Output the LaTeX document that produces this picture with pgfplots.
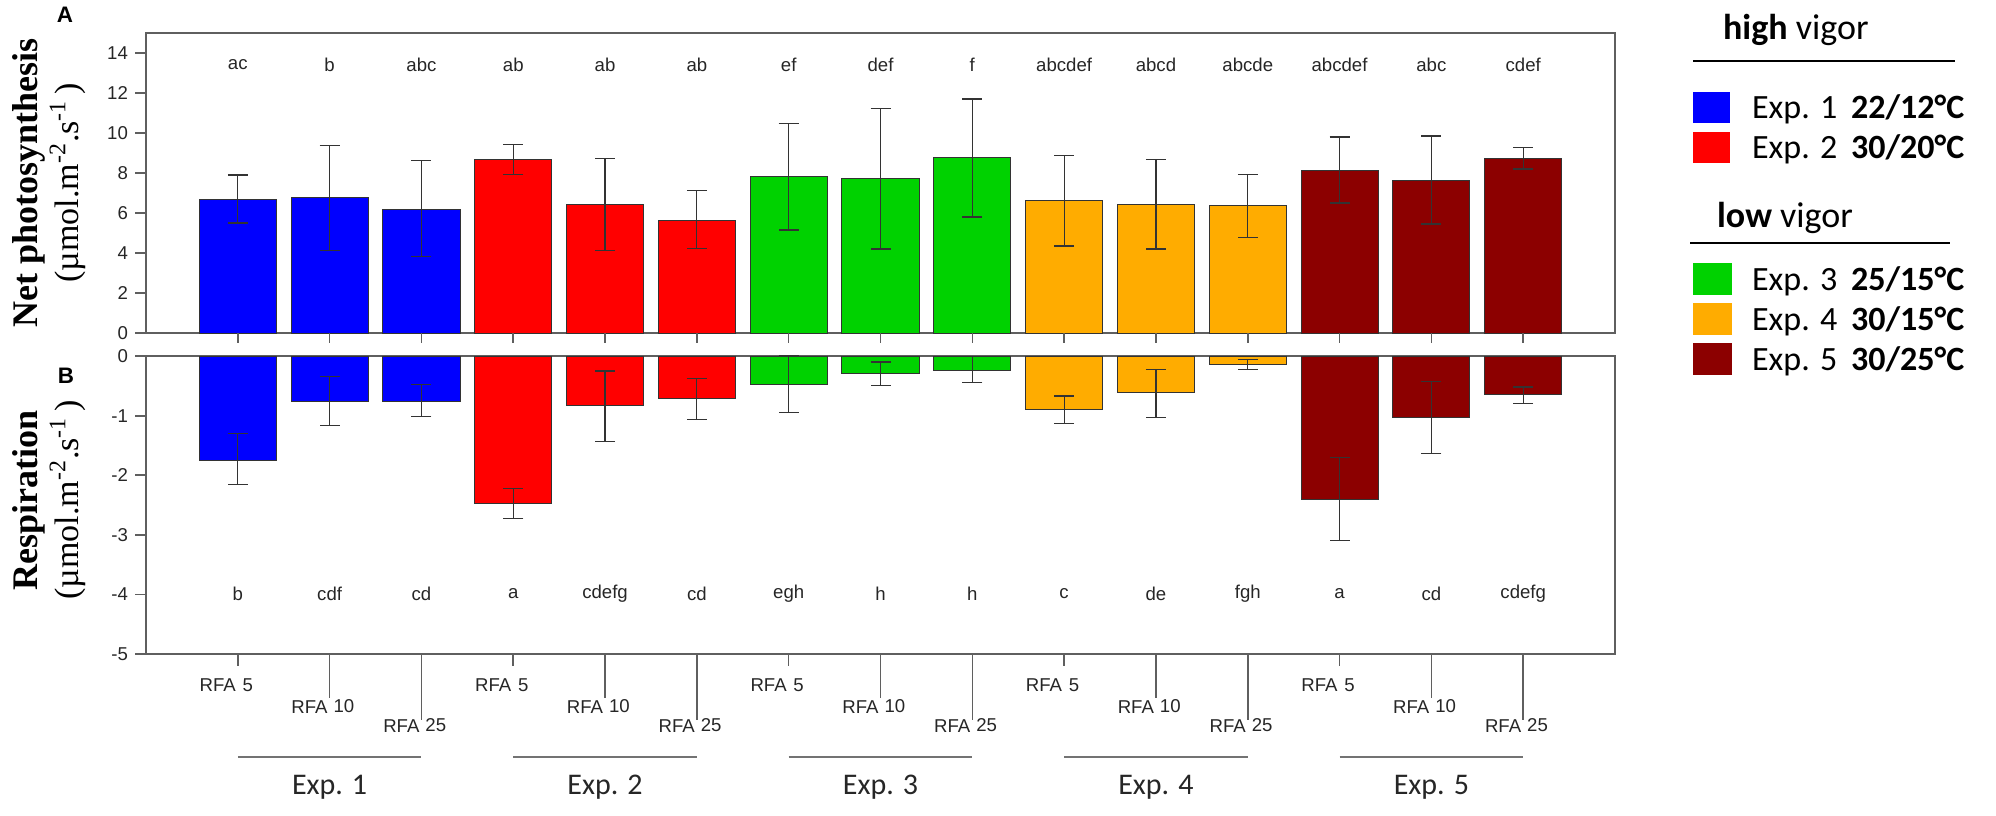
\documentclass[border=0pt]{standalone}
\usepackage{pgfplots}
\pgfplotsset{compat=1.18}
\usepackage{pgfplotstable}
\usepackage{fontspec}
\setmainfont{Liberation Sans}
\newfontfamily\tnr{Liberation Serif}
\newfontfamily\carl{Carlito}
\definecolor{cblue}{RGB}{0,0,255}
\definecolor{cred}{RGB}{255,0,0}
\definecolor{cgreen}{RGB}{0,210,0}
\definecolor{corange}{RGB}{255,172,0}
\definecolor{cdred}{RGB}{140,0,0}
\definecolor{axgray}{RGB}{95,95,95}
\newcommand\tk{\fontsize{9.3}{11}\selectfont}

% top panel: net photosynthesis (value, error plus, error minus)
\pgfplotstableread{
x y ep em
1 6.70 1.20 1.20
2 6.77 2.60 2.65
3 6.18 2.44 2.36
}\tA
\pgfplotstableread{
x y ep em
4 8.68 0.74 0.76
5 6.45 2.28 2.33
6 5.65 1.48 1.43
}\tB
\pgfplotstableread{
x y ep em
7 7.83 2.65 2.68
8 7.72 3.50 3.52
9 8.77 2.93 2.97
}\tC
\pgfplotstableread{
x y ep em
10 6.63 2.25 2.28
11 6.43 2.25 2.23
12 6.40 1.53 1.62
}\tD
\pgfplotstableread{
x y ep em
13 8.15 1.65 1.65
14 7.65 2.20 2.20
15 8.73 0.54 0.53
}\tE
% bottom panel: respiration
\pgfplotstableread{
x y ep em
1 -1.75 0.45 0.40
2 -0.77 0.42 0.40
3 -0.77 0.29 0.24
}\bA
\pgfplotstableread{
x y ep em
4 -2.47 0.25 0.25
5 -0.83 0.58 0.61
6 -0.72 0.34 0.34
}\bB
\pgfplotstableread{
x y ep em
7 -0.47 0.47 0.48
8 -0.29 0.19 0.20
9 -0.24 0.23 0.20
}\bC
\pgfplotstableread{
x y ep em
10 -0.90 0.23 0.23
11 -0.61 0.39 0.42
12 -0.15 0.09 0.08
}\bD
\pgfplotstableread{
x y ep em
13 -2.40 0.70 0.69
14 -1.03 0.60 0.61
15 -0.64 0.12 0.15
}\bE

\tikzset{lab/.style={font=\tk, text=black!85},
  rl/.style={font=\tk, text=black!85, inner sep=0pt}}
\pgfplotsset{
  panel/.style={
    scale only axis, width=734.5pt,
    xmin=0, xmax=16,
    ybar, bar width=0.84, bar shift=0pt,
    axis line style={axgray, line width=0.9pt},
    tick style={axgray, line width=0.9pt},
    tick align=outside, major tick length=5.5pt,
    ytick pos=left, xtick=\empty,
    yticklabel style={font=\tk, text=black!85},
    /pgf/number format/assume math mode=true,
    clip=false,
  },
  bars/.style={draw=black!80, line width=0.5pt, fill=#1, bar shift=0pt,
    error bars/.cd, y dir=both, y explicit,
    error bar style={black!80, line width=0.6pt},
    error mark options={rotate=90, mark size=5pt, black!80, line width=0.6pt}},
}

\begin{document}
\begin{tikzpicture}
\path[use as bounding box] (0,0) rectangle (998pt,-407.5pt);

% ---------- top panel ----------
\begin{axis}[panel, at={(73pt,-166.5pt)}, anchor=south west, height=150pt,
  ymin=0, ymax=15, ytick={0,2,...,14}]
\addplot[bars=cblue] table[x=x, y=y, y error plus=ep, y error minus=em] {\tA};
\addplot[bars=cred] table[x=x, y=y, y error plus=ep, y error minus=em] {\tB};
\addplot[bars=cgreen] table[x=x, y=y, y error plus=ep, y error minus=em] {\tC};
\addplot[bars=corange] table[x=x, y=y, y error plus=ep, y error minus=em] {\tD};
\addplot[bars=cdred] table[x=x, y=y, y error plus=ep, y error minus=em] {\tE};
\pgfplotsinvokeforeach{1,...,15}{
  \draw[axgray, line width=0.8pt] (axis cs:#1,0) -- ([yshift=-5pt]axis cs:#1,0);
}
\node[lab] at (axis cs:1,13.4) {ac};
\node[lab] at (axis cs:2,13.4) {b};
\node[lab] at (axis cs:3,13.4) {abc};
\node[lab] at (axis cs:4,13.4) {ab};
\node[lab] at (axis cs:5,13.4) {ab};
\node[lab] at (axis cs:6,13.4) {ab};
\node[lab] at (axis cs:7,13.4) {ef};
\node[lab] at (axis cs:8,13.4) {def};
\node[lab] at (axis cs:9,13.4) {f};
\node[lab] at (axis cs:10,13.4) {abcdef};
\node[lab] at (axis cs:11,13.4) {abcd};
\node[lab] at (axis cs:12,13.4) {abcde};
\node[lab] at (axis cs:13,13.4) {abcdef};
\node[lab] at (axis cs:14,13.4) {abc};
\node[lab] at (axis cs:15,13.4) {cdef};
\end{axis}

% ---------- bottom panel ----------
\begin{axis}[panel, at={(73pt,-327pt)}, anchor=south west, height=149pt,
  ymin=-5, ymax=0, ytick={-5,-4,...,0}]
\addplot[bars=cblue] table[x=x, y=y, y error plus=ep, y error minus=em] {\bA};
\addplot[bars=cred] table[x=x, y=y, y error plus=ep, y error minus=em] {\bB};
\addplot[bars=cgreen] table[x=x, y=y, y error plus=ep, y error minus=em] {\bC};
\addplot[bars=corange] table[x=x, y=y, y error plus=ep, y error minus=em] {\bD};
\addplot[bars=cdred] table[x=x, y=y, y error plus=ep, y error minus=em] {\bE};
\node[lab] at (axis cs:1,-3.99) {b};
\node[lab] at (axis cs:2,-3.99) {cdf};
\node[lab] at (axis cs:3,-3.99) {cd};
\node[lab] at (axis cs:4,-3.99) {a};
\node[lab] at (axis cs:5,-3.99) {cdefg};
\node[lab] at (axis cs:6,-3.99) {cd};
\node[lab] at (axis cs:7,-3.99) {egh};
\node[lab] at (axis cs:8,-3.99) {h};
\node[lab] at (axis cs:9,-3.99) {h};
\node[lab] at (axis cs:10,-3.99) {c};
\node[lab] at (axis cs:11,-3.99) {de};
\node[lab] at (axis cs:12,-3.99) {fgh};
\node[lab] at (axis cs:13,-3.99) {a};
\node[lab] at (axis cs:14,-3.99) {cd};
\node[lab] at (axis cs:15,-3.99) {cdefg};
% category ticks and labels
\pgfplotsinvokeforeach{1,4,7,10,13}{
  \draw[axgray, line width=0.8pt] (axis cs:#1,-5) -- ([yshift=-6pt]axis cs:#1,-5);
  \node[rl, anchor=base east, xshift=-0.8pt, yshift=-18.9pt] at (axis cs:#1,-5) {RFA};
  \node[rl, anchor=base west, xshift=2.2pt, yshift=-18.9pt] at (axis cs:#1,-5) {5};
}
\pgfplotsinvokeforeach{2,5,8,11,14}{
  \draw[axgray, line width=0.8pt] (axis cs:#1,-5) -- ([yshift=-22pt]axis cs:#1,-5);
  \node[rl, anchor=base east, xshift=-0.8pt, yshift=-29.9pt] at (axis cs:#1,-5) {RFA};
  \node[rl, anchor=base west, xshift=1.8pt, yshift=-29.2pt] at (axis cs:#1,-5) {10};
}
\pgfplotsinvokeforeach{3,6,9,12,15}{
  \draw[axgray, line width=0.8pt] (axis cs:#1,-5) -- ([yshift=-33pt]axis cs:#1,-5);
  \node[rl, anchor=base east, xshift=-0.8pt, yshift=-39.3pt] at (axis cs:#1,-5) {RFA};
  \node[rl, anchor=base west, xshift=1.8pt, yshift=-38.8pt] at (axis cs:#1,-5) {25};
}
% experiment groups
\draw[black!55, line width=0.8pt] ([yshift=-51.5pt]axis cs:1,-5) -- ([yshift=-51.5pt]axis cs:3,-5);
\draw[black!55, line width=0.8pt] ([yshift=-51.5pt]axis cs:4,-5) -- ([yshift=-51.5pt]axis cs:6,-5);
\draw[black!55, line width=0.8pt] ([yshift=-51.5pt]axis cs:7,-5) -- ([yshift=-51.5pt]axis cs:9,-5);
\draw[black!55, line width=0.8pt] ([yshift=-51.5pt]axis cs:10,-5) -- ([yshift=-51.5pt]axis cs:12,-5);
\draw[black!55, line width=0.8pt] ([yshift=-51.5pt]axis cs:13,-5) -- ([yshift=-51.5pt]axis cs:15,-5);
\node[font=\carl\fontsize{15}{17}\selectfont, text=black!85, yshift=-66.5pt] at (axis cs:2,-5) {Exp. 1};
\node[font=\carl\fontsize{15}{17}\selectfont, text=black!85, yshift=-66.5pt] at (axis cs:5,-5) {Exp. 2};
\node[font=\carl\fontsize{15}{17}\selectfont, text=black!85, yshift=-66.5pt] at (axis cs:8,-5) {Exp. 3};
\node[font=\carl\fontsize{15}{17}\selectfont, text=black!85, yshift=-66.5pt] at (axis cs:11,-5) {Exp. 4};
\node[font=\carl\fontsize{15}{17}\selectfont, text=black!85, yshift=-66.5pt] at (axis cs:14,-5) {Exp. 5};
\end{axis}

% ---------- axis titles and panel letters ----------
\node[rotate=90, anchor=base, font=\tnr\bfseries\fontsize{18}{20}\selectfont] at (18.5pt,-91.5pt) {Net photosynthesis};
\node[rotate=90, anchor=base, font=\tnr\fontsize{17}{20}\selectfont] at (39pt,-91.5pt) {(µmol.m\textsuperscript{-2}.s\textsuperscript{-1}\,)};
\node[rotate=90, anchor=base, font=\tnr\bfseries\fontsize{18}{20}\selectfont] at (18.5pt,-250pt) {Respiration};
\node[rotate=90, anchor=base, font=\tnr\fontsize{17}{20}\selectfont] at (39pt,-250pt) {(µmol.m\textsuperscript{-2}.s\textsuperscript{-1}\,)};
\node[font=\bfseries\fontsize{11.2}{13}\selectfont] at (32.5pt,-7.5pt) {A};
\node[font=\bfseries\fontsize{11.2}{13}\selectfont] at (33pt,-188pt) {B};

% ---------- legend ----------
\begin{scope}[font=\carl\fontsize{17}{20}\selectfont]
\node[anchor=base west, font=\carl\fontsize{18}{20}\selectfont] at (858pt,-19.5pt) {\textbf{high} vigor};
\draw[black, line width=1pt] (846.5pt,-30.5pt) -- (977.5pt,-30.5pt);
\fill[cblue] (846.5pt,-46pt) rectangle (865pt,-61.5pt);
\fill[cred] (846.5pt,-66pt) rectangle (865pt,-81.5pt);
\node[anchor=base west] at (872.5pt,-59pt) {Exp. 1};
\node[anchor=base west] at (922pt,-59pt) {\textbf{22/12°C}};
\node[anchor=base west] at (872.5pt,-79pt) {Exp. 2};
\node[anchor=base west] at (922pt,-79pt) {\textbf{30/20°C}};
\node[anchor=base west, font=\carl\fontsize{18}{20}\selectfont] at (855pt,-113.5pt) {\textbf{low} vigor};
\draw[black, line width=1pt] (845pt,-121.5pt) -- (975pt,-121.5pt);
\fill[cgreen] (846.5pt,-131.5pt) rectangle (866pt,-147.5pt);
\fill[corange] (846.5pt,-151.5pt) rectangle (866pt,-167.5pt);
\fill[cdred] (846.5pt,-171.5pt) rectangle (866pt,-187.5pt);
\node[anchor=base west] at (872.5pt,-145pt) {Exp. 3};
\node[anchor=base west] at (922pt,-145pt) {\textbf{25/15°C}};
\node[anchor=base west] at (872.5pt,-165pt) {Exp. 4};
\node[anchor=base west] at (922pt,-165pt) {\textbf{30/15°C}};
\node[anchor=base west] at (872.5pt,-185pt) {Exp. 5};
\node[anchor=base west] at (922pt,-185pt) {\textbf{30/25°C}};
\end{scope}
\end{tikzpicture}
\end{document}
